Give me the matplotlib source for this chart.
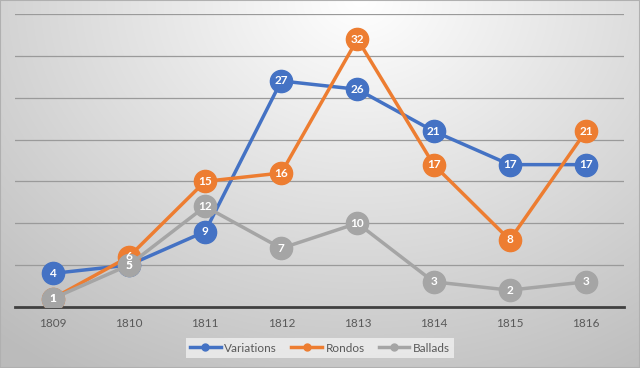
import numpy as np
import matplotlib
matplotlib.use("Agg")
import matplotlib.pyplot as plt

plt.rcParams.update({"font.family": ["Lato", "DejaVu Sans"]})

years = ["1809", "1810", "1811", "1812", "1813", "1814", "1815", "1816"]
variations = [4, 5, 9, 27, 26, 21, 17, 17]
rondos = [1, 6, 15, 16, 32, 17, 8, 21]
ballads = [1, 5, 12, 7, 10, 3, 2, 3]

series = [("Variations", variations, "#4472C4"),
          ("Rondos", rondos, "#ED7D31"),
          ("Ballads", ballads, "#A5A5A5")]

fig = plt.figure(figsize=(6.4, 3.68), dpi=100)

# radial gradient background
bg = fig.add_axes([0, 0, 1, 1], zorder=-10)
h, w = 368, 640
yy, xx = np.mgrid[0:h, 0:w]
d = np.sqrt(((xx - 360) / 1.0) ** 2 + ((yy - 0) * 1.25) ** 2)
v = 1.0 - 0.22 * np.clip(d / 460, 0, 1.2)
img = np.dstack([v, v, v])
bg.imshow(img, aspect="auto", extent=[0, 1, 0, 1], origin="upper")
bg.axis("off")
bg.add_patch(plt.Rectangle((0, 0), 1, 1, transform=bg.transAxes, fill=False,
                           edgecolor="#b0b0b0", linewidth=1.5))

ax = fig.add_axes([0.023, 0.166, 0.952, 0.796])
ax.set_facecolor("none")
x = np.arange(len(years))
for name, vals, col in series:
    ax.plot(x, vals, color=col, linewidth=2.5, marker="o", markersize=16,
            markeredgecolor=col, label=name, zorder=3)
for name, vals, col in series:
    for xi, vi in zip(x, vals):
        ax.text(xi, vi, str(vi), color="white", fontsize=8.5, fontweight="bold",
                ha="center", va="center", zorder=5)

ax.set_xlim(-0.5, 7.5)
ax.set_ylim(0, 35)
ax.set_yticks(np.arange(5, 36, 5))
ax.set_yticklabels([])
ax.tick_params(axis="y", length=0)
ax.grid(axis="y", color="#9a9a9a", linewidth=0.9)
ax.set_axisbelow(True)
ax.set_xticks(x)
ax.set_xticklabels(years, fontsize=8.5, color="#595959")
ax.tick_params(axis="x", length=0, pad=8)
for s in ["top", "right", "left"]:
    ax.spines[s].set_visible(False)
ax.spines["bottom"].set_color("#404040")
ax.spines["bottom"].set_linewidth(2)

handles, labels = ax.get_legend_handles_labels()
leg_handles = [plt.Line2D([0], [0], color=c, linewidth=2.5, marker="o", markersize=5)
               for _, _, c in series]
leg = fig.legend(leg_handles, labels, loc="center", bbox_to_anchor=(0.5, 0.054), ncol=3,
                 frameon=True, fontsize=8.5, handlelength=2.6, columnspacing=1.2,
                 handletextpad=0.3, borderpad=0.35, fancybox=False)
leg.get_frame().set_facecolor("#f0f0f0")
leg.get_frame().set_edgecolor("none")
for t in leg.get_texts():
    t.set_color("#595959")

fig.savefig("out.png", dpi=100)
